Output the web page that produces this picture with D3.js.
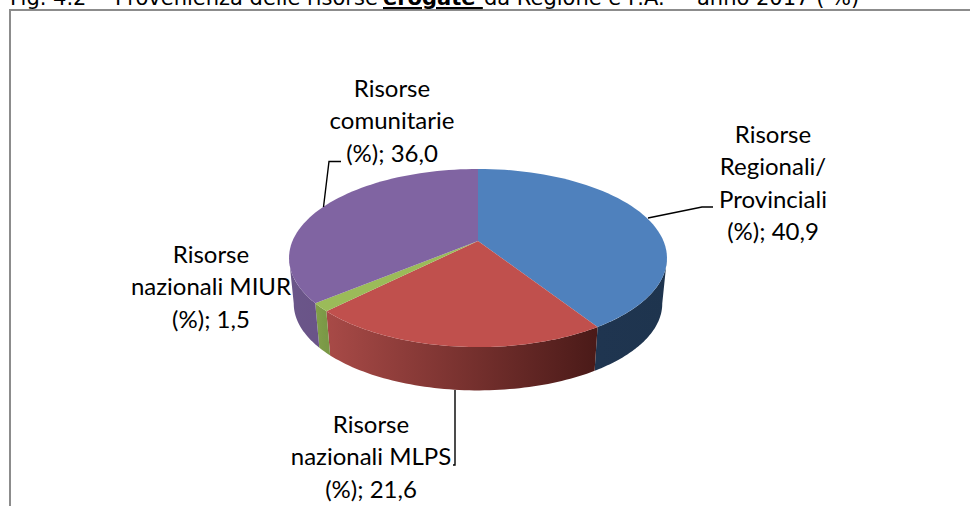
<!DOCTYPE html>
<html><head><meta charset="utf-8">
<script src="https://cdn.jsdelivr.net/npm/d3@7"></script>
<style>html,body{margin:0;padding:0;background:#fff;overflow:hidden}</style></head>
<body><svg id="c" width="970" height="506"></svg>
<script>
const categories = ["Risorse Regionali/Provinciali","Risorse nazionali MLPS","Risorse nazionali MIUR","Risorse comunitarie"];
const values = [40.9, 21.6, 1.5, 36.0];
const topColors = ["#4f81bd","#c0504d","#9bbb59","#8064a2"];
const sideColors = [["#1f3550","#1e344e"],["#a84a47","#4a1a18"],["#82a04a","#7a9846"],["#6a5689","#6a5488"]];
const labelLines = [["Risorse","Regionali/","Provinciali","(%); 40,9"],["Risorse","nazionali MLPS","(%); 21,6"],["Risorse","nazionali MIUR","(%); 1,5"],["Risorse","comunitarie","(%); 36,0"]];
const labelPos = [[773,143],[371,433],[211,263],[392,97]];
const leaders = [[[648,218],[702,207],[713,207]],[[455,390],[455,465],[453,465]],[],[[323.5,207],[329,161.5],[341,161.5]]];
const titleParts = [["Fig. 4.2 –",false,10],["Provenienza delle risorse",false,115],["erogate ",true,383],["da Regione e P.A. –",false,484],["anno 2017 ( %)",false,697]];

const svg = d3.select("#c");
const cx=478, cy=241, a=185.5, b=85.8, k=0.191, depth=46, shrink=0.975;
const proj=(t,s=1,d=0)=>{const u=Math.sin(t),v=-Math.cos(t),w=1-k*v;return [cx+s*a*u/w, cy+s*b*v/w+d];};
const arcPts=(t0,t1,s,d)=>d3.range(0,61).map(i=>proj(t0+(t1-t0)*i/60,s,d));
const line=d3.line();
const pie=d3.pie().sort(null).value(d=>d)(values);
const visA=Math.PI-Math.acos(k), visB=Math.PI+Math.acos(k);
const defs=svg.append("defs");
sideColors.forEach((c,i)=>{
  const g=defs.append("linearGradient").attr("id","g"+i).attr("gradientUnits","userSpaceOnUse");
  const t0=Math.max(pie[i].startAngle,visA),t1=Math.min(pie[i].endAngle,visB);
  const e=d3.extent(arcPts(t0,t1,1,0).map(p=>p[0]));
  g.attr("x1",e[0]).attr("x2",e[1]).attr("y1",0).attr("y2",0);
  g.append("stop").attr("offset",0).attr("stop-color",c[0]);
  g.append("stop").attr("offset",1).attr("stop-color",c[1]);
});
svg.append("path").attr("d",line([[10,506],[10,10],[970,10]])).attr("fill","none").attr("stroke","#8c8c8c").attr("stroke-width",2);
const tt=svg.append("text").attr("y",5).attr("font-family","DejaVu Sans").attr("font-size",21).attr("fill","#000").attr("xml:space","preserve").style("white-space","pre");
titleParts.forEach(p=>{tt.append("tspan").attr("x",p[2]).text(p[0]).attr("font-weight",p[1]?"bold":"normal").attr("text-decoration",p[1]?"underline":"none");});
pie.forEach((p,i)=>{
  const t0=Math.max(p.startAngle,visA),t1=Math.min(p.endAngle,visB);
  if(t1<=t0) return;
  const pts=arcPts(t0,t1,1,0).concat(arcPts(t0,t1,shrink,depth).reverse());
  svg.append("path").attr("d",line(pts)+"Z").attr("fill","url(#g"+i+")");
});
pie.forEach((p,i)=>{
  const pts=[[cx,cy]].concat(arcPts(p.startAngle,p.endAngle,1,0));
  svg.append("path").attr("d",line(pts)+"Z").attr("fill",topColors[i]);
});
leaders.forEach(l=>{if(l.length) svg.append("path").attr("d",line(l)).attr("fill","none").attr("stroke","#000").attr("stroke-width",1.4);});
labelLines.forEach((ls,i)=>{
  const t=svg.append("text").attr("text-anchor","middle").attr("font-family","Lato").attr("font-size",24).attr("fill","#000");
  ls.forEach((s,j)=>t.append("tspan").attr("x",labelPos[i][0]).attr("y",labelPos[i][1]+j*32.3).text(s));
});
</script></body></html>
